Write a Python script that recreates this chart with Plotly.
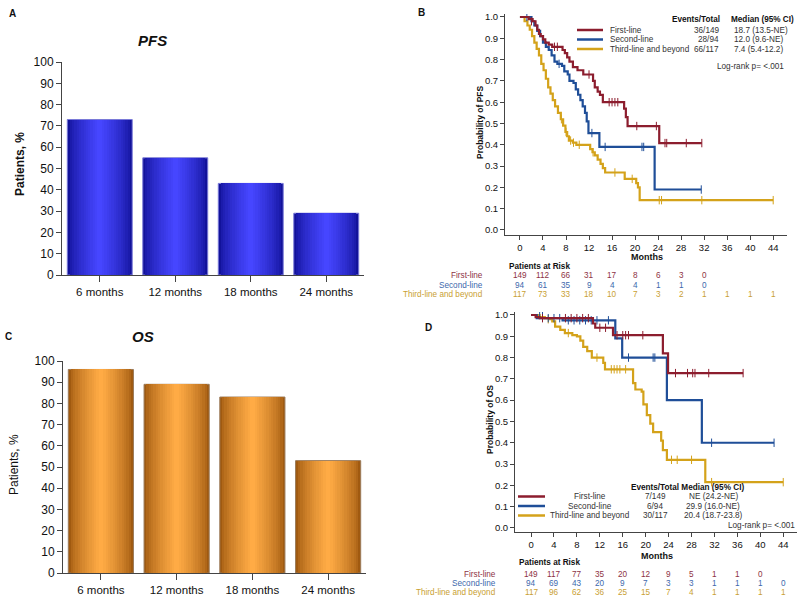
import plotly.graph_objects as go

# ---------------- DATA ----------------
categories = ["6 months", "12 months", "18 months", "24 months"]
pfs_rates = [73, 55, 43, 29]
os_rates = [96, 89, 83, 53]

month_ticks = [0, 4, 8, 12, 16, 20, 24, 28, 32, 36, 40, 44]
prob_ticks = [0.0, 0.1, 0.2, 0.3, 0.4, 0.5, 0.6, 0.7, 0.8, 0.9, 1.0]

group_names = ["First-line", "Second-line", "Third-line and beyond"]

# PFS Kaplan-Meier step data
pfs_first_t = [0, 1.5, 2.2, 2.7, 3.0, 3.3, 3.6, 4.0, 4.4, 5.0, 5.6, 7.4, 7.8, 8.2, 8.6, 9.2, 10.0, 11.0, 12.7, 13.0, 13.5, 13.9, 14.4, 18.1, 18.4, 18.7, 24.2, 31.6]
pfs_first_s = [1.0, 0.99, 0.98, 0.96, 0.94, 0.92, 0.91, 0.895, 0.88, 0.87, 0.86, 0.845, 0.83, 0.81, 0.79, 0.765, 0.75, 0.73, 0.70, 0.67, 0.65, 0.634, 0.60, 0.57, 0.53, 0.488, 0.408, 0.408]
pfs_first_cens_t = [2.0, 6.0, 6.5, 12.0, 15.5, 16.0, 16.5, 17.0, 20.3, 23.7, 25.2, 25.5, 28.9, 31.6]
pfs_first_cens_s = [0.98, 0.86, 0.86, 0.73, 0.60, 0.60, 0.60, 0.60, 0.488, 0.488, 0.408, 0.408, 0.408, 0.408]

pfs_second_t = [0, 2.0, 2.5, 3.0, 3.5, 4.0, 4.5, 5.0, 5.5, 6.0, 6.5, 7.3, 7.7, 8.3, 8.6, 9.3, 9.7, 10.1, 10.5, 10.9, 11.3, 11.6, 11.9, 13.8, 23.4, 31.5]
pfs_second_s = [1.0, 0.98, 0.96, 0.935, 0.91, 0.88, 0.86, 0.845, 0.82, 0.79, 0.78, 0.77, 0.745, 0.73, 0.70, 0.69, 0.66, 0.635, 0.61, 0.58, 0.55, 0.51, 0.455, 0.39, 0.19, 0.19]
pfs_second_cens_t = [1.2, 6.8, 12.5, 14.8, 21.2, 21.5, 31.5]
pfs_second_cens_s = [1.0, 0.78, 0.455, 0.39, 0.39, 0.39, 0.19]

pfs_third_t = [0, 0.8, 1.3, 1.7, 2.1, 2.5, 2.9, 3.3, 3.7, 4.1, 4.5, 4.9, 5.3, 5.7, 6.1, 6.6, 7.1, 7.5, 7.9, 8.2, 8.5, 9.2, 9.8, 12.2, 12.6, 13.0, 13.5, 14.0, 14.4, 14.8, 18.2, 20.2, 20.5, 20.8, 44]
pfs_third_s = [1.0, 0.98, 0.96, 0.94, 0.91, 0.88, 0.85, 0.82, 0.78, 0.75, 0.71, 0.67, 0.64, 0.61, 0.58, 0.55, 0.52, 0.49, 0.46, 0.44, 0.42, 0.41, 0.40, 0.38, 0.365, 0.35, 0.33, 0.31, 0.29, 0.27, 0.24, 0.22, 0.20, 0.14, 0.14]
pfs_third_cens_t = [7.2, 8.0, 8.8, 9.3, 10.3, 12.7, 16.5, 19.5, 24.2, 24.6, 31.6, 44]
pfs_third_cens_s = [0.52, 0.46, 0.42, 0.41, 0.40, 0.365, 0.27, 0.24, 0.14, 0.14, 0.14, 0.14]

# OS Kaplan-Meier step data
os_first_t = [0, 0.8, 1.5, 10.8, 11.2, 14.3, 23.0, 23.9, 37.0]
os_first_s = [1.0, 0.99, 0.985, 0.96, 0.94, 0.905, 0.82, 0.727, 0.727]
os_first_cens_t = [2.0, 6.0, 7.0, 8.0, 9.0, 10.0, 12.0, 13.0, 15.0, 16.0, 16.5, 17.0, 19.5, 25.2, 27.3, 28.2, 28.6, 31.0, 37.0]
os_first_cens_s = [0.985, 0.985, 0.985, 0.985, 0.985, 0.985, 0.94, 0.94, 0.905, 0.905, 0.905, 0.905, 0.905, 0.727, 0.727, 0.727, 0.727, 0.727, 0.727]

os_second_t = [0, 1.0, 5.5, 14.7, 15.9, 23.7, 29.8, 42.4]
os_second_s = [1.0, 0.985, 0.975, 0.89, 0.80, 0.60, 0.40, 0.40]
os_second_cens_t = [1.5, 2.0, 3.0, 4.0, 5.0, 6.5, 7.5, 8.5, 9.5, 10.5, 11.5, 13.5, 17.0, 21.3, 21.6, 31.5, 42.4]
os_second_cens_s = [1.0, 1.0, 0.985, 0.985, 0.985, 0.975, 0.975, 0.975, 0.975, 0.975, 0.975, 0.975, 0.80, 0.80, 0.80, 0.40, 0.40]

os_third_t = [0, 1.5, 2.4, 3.2, 3.7, 4.2, 5.1, 5.9, 7.2, 8.0, 8.6, 9.1, 9.8, 10.6, 12.6, 12.9, 17.8, 18.2, 19.3, 19.6, 20.2, 20.8, 21.3, 22.7, 23.0, 23.7, 30.4, 44]
os_third_s = [1.0, 0.99, 0.985, 0.98, 0.97, 0.945, 0.93, 0.915, 0.905, 0.90, 0.88, 0.85, 0.83, 0.80, 0.775, 0.745, 0.68, 0.65, 0.64, 0.58, 0.53, 0.49, 0.45, 0.41, 0.365, 0.32, 0.215, 0.215]
os_third_cens_t = [3.0, 6.5, 11.5, 14.0, 14.5, 15.0, 15.5, 16.5, 24.5, 25.5, 28.0, 31.5, 44]
os_third_cens_s = [0.98, 0.915, 0.80, 0.745, 0.745, 0.745, 0.745, 0.745, 0.32, 0.32, 0.32, 0.215, 0.215]

# Legend tables
pfs_events = ["36/149", "28/94", "66/117"]
pfs_medians = ["18.7 (13.5-NE)", "12.0 (9.6-NE)", "7.4 (5.4-12.2)"]
os_events = ["7/149", "6/94", "30/117"]
os_medians = ["NE (24.2-NE)", "29.9 (16.0-NE)", "20.4 (18.7-23.8)"]

# Patients at risk
pfs_risk_first = [149, 112, 66, 31, 17, 8, 6, 3, 0]
pfs_risk_second = [94, 61, 35, 9, 4, 4, 1, 1, 0]
pfs_risk_third = [117, 73, 33, 18, 10, 7, 3, 2, 1, 1, 1, 1]
os_risk_first = [149, 117, 77, 35, 20, 12, 9, 5, 1, 1, 0]
os_risk_second = [94, 69, 43, 20, 9, 7, 3, 3, 1, 1, 1, 0]
os_risk_third = [117, 96, 62, 36, 25, 15, 7, 4, 1, 1, 1, 1]

# ---------------- STYLE ----------------
W, H = 800, 599
FONT = "Liberation Sans, Arial, sans-serif"
line_colors = ["#8C1D2E", "#1F4E98", "#D4A21A"]
text_colors = ["#8E3344", "#3D68AC", "#C9A032"]
AXC = "#444444"
SM = 8.2


def px_x(x):
    return x / W


def px_y(y):
    return 1 - y / H


def lerp_color(c1, c2, f):
    a = [int(c1[i:i + 2], 16) for i in (1, 3, 5)]
    b = [int(c2[i:i + 2], 16) for i in (1, 3, 5)]
    return "#%02x%02x%02x" % tuple(round(a[i] + (b[i] - a[i]) * f) for i in range(3))


fig = go.Figure()

# ---- gradient bars (layered overlay bars) ----
N_LAYERS = 14
BAR_W = 0.86


def add_bars(values, xa, ya, dark, light, edge):
    for k in range(N_LAYERS):
        f = k / (N_LAYERS - 1)
        w = BAR_W * (1 - k / N_LAYERS)
        col = lerp_color(dark, light, f ** 0.7)
        fig.add_trace(go.Bar(
            x=categories, y=values, width=w, xaxis=xa, yaxis=ya,
            marker=dict(color=col, line=dict(color=edge if k == 0 else col, width=1 if k == 0 else 0)),
            showlegend=False, hoverinfo="skip"))


add_bars(pfs_rates, "x", "y", "#12129a", "#4646ff", "#7a7ad8")
add_bars(os_rates, "x3", "y3", "#a05a10", "#ffab45", "#9a7a5a")

# ---- KM curves ----
pfs_curves = [(pfs_first_t, pfs_first_s, pfs_first_cens_t, pfs_first_cens_s),
              (pfs_second_t, pfs_second_s, pfs_second_cens_t, pfs_second_cens_s),
              (pfs_third_t, pfs_third_s, pfs_third_cens_t, pfs_third_cens_s)]
os_curves = [(os_first_t, os_first_s, os_first_cens_t, os_first_cens_s),
             (os_second_t, os_second_s, os_second_cens_t, os_second_cens_s),
             (os_third_t, os_third_s, os_third_cens_t, os_third_cens_s)]

for curves, xa, ya in [(pfs_curves, "x2", "y2"), (os_curves, "x4", "y4")]:
    for i in [2, 1, 0]:
        t, s, ct, cs = curves[i]
        fig.add_trace(go.Scatter(x=t, y=s, mode="lines", line=dict(color=line_colors[i], width=2.2, shape="hv"),
                                 xaxis=xa, yaxis=ya, showlegend=False, hoverinfo="skip"))
        fig.add_trace(go.Scatter(x=ct, y=cs, mode="markers",
                                 marker=dict(symbol="line-ns-open", size=6, color=line_colors[i],
                                             line=dict(color=line_colors[i], width=1)),
                                 xaxis=xa, yaxis=ya, showlegend=False, hoverinfo="skip"))

# ---------------- AXES ----------------
bar_x = dict(type="category", range=[-0.5, 3.5], showline=True, linecolor=AXC, linewidth=1,
             ticks="outside", ticklen=6, tickcolor=AXC, tickfont=dict(size=11.5, color="#111"),
             showgrid=False, zeroline=False, fixedrange=True, automargin=False)
bar_y = dict(range=[0, 100], tickvals=list(range(0, 101, 10)), showline=True, linecolor=AXC, linewidth=1,
             ticks="outside", ticklen=5, tickcolor=AXC, tickfont=dict(size=12, color="#111"),
             showgrid=False, zeroline=False, automargin=False)
km_x = dict(tickvals=month_ticks, showline=True, linecolor=AXC, linewidth=1, ticks="outside", ticklen=4,
            tickcolor=AXC, tickfont=dict(size=9.5, color="#111"), showgrid=False, zeroline=False, automargin=False)
km_y = dict(tickvals=prob_ticks, tickformat=".1f", showline=True, linecolor=AXC, linewidth=1, ticks="outside",
            ticklen=4, tickcolor=AXC, tickfont=dict(size=9.5, color="#111"), showgrid=False, zeroline=False,
            automargin=False)

fig.update_layout(
    width=W, height=H, margin=dict(l=0, r=0, t=0, b=0, pad=0, autoexpand=False),
    paper_bgcolor="white", plot_bgcolor="white", barmode="overlay", bargap=0,
    font=dict(family=FONT, color="#111"),
    xaxis=dict(bar_x, domain=[px_x(62), px_x(364)], anchor="y"),
    yaxis=dict(bar_y, domain=[px_y(275), px_y(62)], anchor="x"),
    xaxis3=dict(bar_x, domain=[px_x(63), px_x(366)], anchor="y3"),
    yaxis3=dict(bar_y, domain=[px_y(573), px_y(361)], anchor="x3"),
    xaxis2=dict(km_x, domain=[px_x(505), px_x(787)], range=[-2.6, 46.4], anchor="y2"),
    yaxis2=dict(km_y, domain=[px_y(235), px_y(14)], range=[-0.0235, 1.014], anchor="x2"),
    xaxis4=dict(km_x, domain=[px_x(515), px_x(797)], range=[-2.8, 46.4], anchor="y4"),
    yaxis4=dict(km_y, domain=[px_y(532), px_y(312)], range=[-0.019, 1.014], anchor="x4"),
)

ann = []
shapes = []


def txt(x, y, s, size=10, color="#111", xanchor="center", bold=False, italic=False, angle=0, xref="paper"):
    if bold:
        s = "<b>" + s + "</b>"
    if italic:
        s = "<i>" + s + "</i>"
    ann.append(dict(x=x if xref != "paper" else px_x(x), y=px_y(y), xref=xref, yref="paper", text=s,
                    showarrow=False, xanchor=xanchor, yanchor="middle", textangle=angle,
                    font=dict(size=size, color=color, family=FONT)))


# panel letters & titles
txt(12, 13, "A", size=10, bold=True)
txt(421, 12, "B", size=10, bold=True)
txt(8, 336, "C", size=10, bold=True)
txt(428, 327, "D", size=10, bold=True)
txt(152, 41, "PFS", size=15, bold=True, italic=True)
txt(143, 336, "OS", size=15, bold=True, italic=True)
txt(20, 164, "Patients, %", size=12, bold=True, angle=-90)
txt(14, 465, "Patients, %", size=12, angle=-90)

# KM axis titles
txt(480, 122, "Probability of PFS", size=SM + 0.3, bold=True, angle=-90)
txt(647, 257, "Months", size=SM + 0.8, bold=True)
txt(490, 420, "Probability of OS", size=SM + 0.3, bold=True, angle=-90)
txt(657, 556, "Months", size=SM + 0.8, bold=True)

# PFS legend
txt(722, 20, "Events/Total", size=SM, bold=True, xanchor="right")
txt(729, 20, "Median (95% CI)", size=SM, bold=True, xanchor="left")
for i, yy in enumerate([30, 39.5, 49]):
    shapes.append(dict(type="line", xref="paper", yref="paper", x0=px_x(577), x1=px_x(603), y0=px_y(yy), y1=px_y(yy),
                       line=dict(color=line_colors[i], width=2.5)))
    txt(608, yy, group_names[i], size=SM, xanchor="left", color="#333")
    txt(721, yy, pfs_events[i], size=SM, xanchor="right", color="#333")
    txt(732, yy, pfs_medians[i], size=SM, xanchor="left", color="#333")
txt(786, 66, "Log-rank p= <.001", size=SM, xanchor="right", color="#333")

# OS legend
txt(629, 487.5, "Events/Total Median (95% CI)", size=SM, bold=True, xanchor="left")
for i, yy in enumerate([496.5, 506, 515.5]):
    shapes.append(dict(type="line", xref="paper", yref="paper", x0=px_x(518), x1=px_x(545), y0=px_y(yy), y1=px_y(yy),
                       line=dict(color=line_colors[i], width=2.5)))
    txt(590, yy, group_names[i], size=SM, color="#333")
    txt(655, yy, os_events[i], size=SM, color="#333")
    txt(713, yy, os_medians[i], size=SM, color="#333")
txt(797, 525, "Log-rank p= <.001", size=SM, xanchor="right", color="#333")

# risk tables
txt(507, 266, "Patients at Risk", size=SM, bold=True, xanchor="left")
for i, (row, yy) in enumerate(zip([pfs_risk_first, pfs_risk_second, pfs_risk_third], [276, 285, 294])):
    txt(485, yy, group_names[i], size=SM, xanchor="right", color=text_colors[i])
    for t, v in zip(month_ticks, row):
        txt(t, yy, str(v), size=SM, color=text_colors[i], xref="x2")

txt(517, 562, "Patients at Risk", size=SM, bold=True, xanchor="left")
for i, (row, yy) in enumerate(zip([os_risk_first, os_risk_second, os_risk_third], [574, 583, 592])):
    txt(498, yy, group_names[i], size=SM, xanchor="right", color=text_colors[i])
    for t, v in zip(month_ticks, row):
        txt(t, yy, str(v), size=SM, color=text_colors[i], xref="x4")

fig.update_layout(annotations=ann, shapes=shapes)
fig.write_html("out.html", config={"displayModeBar": False, "staticPlot": True},
               post_script="document.body.style.margin='0';document.body.style.padding='0';document.body.style.overflow='hidden';")
